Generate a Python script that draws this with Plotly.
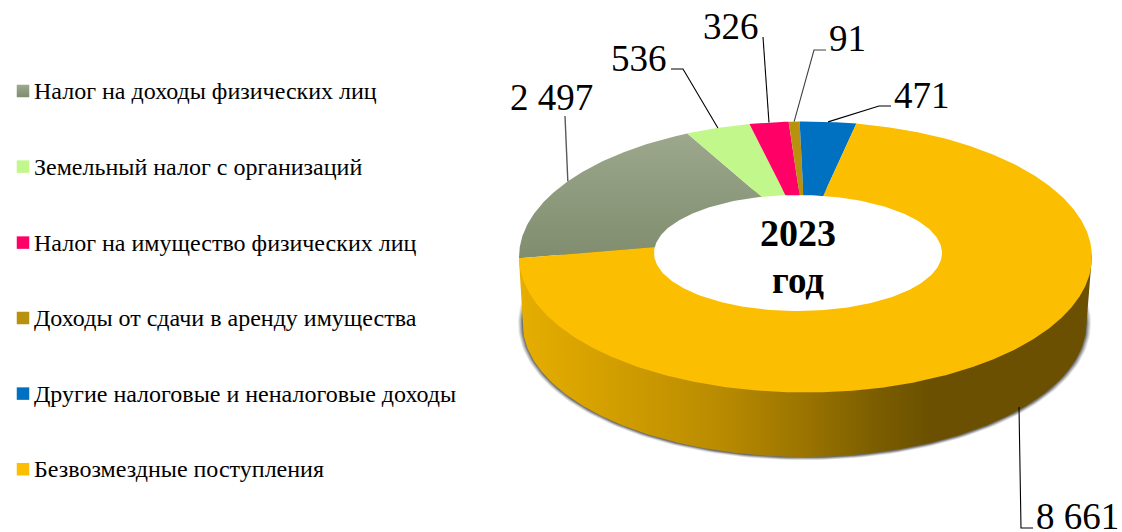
import numpy as np
import plotly.graph_objects as go

categories = ["Налог на доходы физических лиц", "Земельный налог с организаций",
              "Налог на имущество физических лиц", "Доходы от сдачи в аренду имущества",
              "Другие налоговые и неналоговые доходы", "Безвозмездные поступления"]
values = [2497, 536, 326, 91, 471, 8661]
value_labels = ["2 497", "536", "326", "91", "471", "8 661"]
colors = ["#8F9B7C", "#C2F78C", "#FF0066", "#B8920F", "#0070C0", "#FBBE00"]
center_lines = ["2023", "год"]

# disc drawn in perspective: projected disc centre, scale, tilt, first-slice angle
PX, PY, A, B, K = 805.5, 234.5, 282.5, 131.8, 0.166
START_DEG = 259.9


def project(theta_deg, r=1.0):
    t = np.radians(theta_deg)
    u, v = r * np.sin(t), r * np.cos(t)
    w = 1 + K * v
    return PX + A * u / w, PY - B * v / w


def ellipse(cx, cy, ax, ay, t0=0, t1=360, n=240):
    t = np.radians(np.linspace(t0, t1, n))
    return cx + ax * np.cos(t), cy + ay * np.sin(t)


fig = go.Figure()


def poly(xs, ys, color=None, gradient=None):
    tr = dict(x=list(xs), y=list(ys), mode="lines", fill="toself", line=dict(width=0),
              hoverinfo="skip", showlegend=False)
    if gradient:
        tr["fillgradient"] = gradient
    else:
        tr["fillcolor"] = color
    fig.add_trace(go.Scatter(**tr))


# soft shadow under the side wall
for grow, alpha in [(4.5, .10), (3.5, .14), (2.5, .18), (1.5, .25), (0.5, .3)]:
    sx, sy = ellipse(804.5, 323.5, 282 + grow, 134 + grow * .6)
    poly(sx, sy, f"rgba(40,40,40,{alpha})")

# side wall
bx, by = ellipse(804.5, 323, 282, 134, 180, 0)
wall_x = np.r_[519, bx, 1092]
wall_y = np.r_[260, by, 255]
poly(wall_x, wall_y, gradient=dict(
    type="horizontal", start=519, stop=1092,
    colorscale=[[0, "#E6AE00"], [.12, "#D8A300"], [.35, "#B98B00"], [.5, "#9A7400"],
                [.62, "#7C5E00"], [.72, "#6A5000"], [1, "#6A5000"]]))

# top-face slices, angles from the values
total = sum(values)
angle = START_DEG
mids = []
for i, v in enumerate(values):
    sweep = v / total * 360
    th = np.linspace(angle, angle + sweep, max(3, int(sweep * 2)))
    x, y = project(th)
    xs, ys = np.r_[PX, x, PX], np.r_[PY, y, PY]
    if i == 0:
        poly(xs, ys, gradient=dict(type="vertical", start=125, stop=262,
                                   colorscale=[[0, "#9EA98E"], [1, "#7F8C6D"]]))
    else:
        poly(xs, ys, colors[i])
    mids.append(angle + sweep / 2)
    angle += sweep

# hole
hx, hy = ellipse(798, 253, 144, 58)
poly(hx, hy, "#FFFFFF")

# leader lines: label-side elbow points, then the slice's mid-angle on the rim
elbows = [[(565, 116)], [(671, 69), (683, 69)], [(763, 37)], [(826, 50), (814, 50)],
          [(891, 106), (879, 106)], [(1033, 528), (1021, 528)]]
leader_colors = ["#595959", "#000000", "#000000", "#404040", "#000000", "#000000"]
label_pos = [(551, 97), (639, 58.5), (731, 26), (847, 38), (922, 95), (1077, 516)]
for i, pts in enumerate(elbows):
    ex, ey = project(mids[i])
    if i == 5:
        ex, ey = 1019, 407
    fig.add_trace(go.Scatter(x=[p[0] for p in pts] + [ex], y=[p[1] for p in pts] + [ey],
                             mode="lines", line=dict(color=leader_colors[i], width=1.4 if i == 0 else 1.1),
                             hoverinfo="skip", showlegend=False))

# legend squares
legend_y = [91, 166.6, 242.6, 318, 393.6, 469.2]
for i, c in enumerate(categories):
    marker = dict(symbol="square", size=12.5, color=colors[i], line=dict(width=0))
    if i == 0:
        marker["color"] = "#9EA98E"
        marker["gradient"] = dict(type="vertical", color="#7F8C6D")
    fig.add_trace(go.Scatter(x=[23], y=[legend_y[i]], mode="markers", marker=marker,
                             name=c, hoverinfo="skip", showlegend=False))

SERIF = "Liberation Serif, Times New Roman, serif"
ann = []
for c, y in zip(categories, legend_y):
    ann.append(dict(x=32, y=y, text=c, showarrow=False, xanchor="left", yanchor="middle",
                    font=dict(family=SERIF, size=24, color="#000"), xref="x", yref="y"))
for t, (x, y) in zip(value_labels, label_pos):
    ann.append(dict(x=x, y=y, text=t, showarrow=False, xanchor="center", yanchor="middle",
                    font=dict(family=SERIF, size=37, color="#000"), xref="x", yref="y"))
ann.append(dict(x=797.5, y=233, text=f"<b>{center_lines[0]}</b>", showarrow=False,
                font=dict(family=SERIF, size=38, color="#000"), xref="x", yref="y"))
ann.append(dict(x=798, y=280, text=f"<b>{center_lines[1]}</b>", showarrow=False,
                font=dict(family=SERIF, size=37, color="#000"), xref="x", yref="y"))

fig.update_layout(
    width=1122, height=532, margin=dict(l=0, r=0, t=0, b=0),
    paper_bgcolor="#FFFFFF", plot_bgcolor="#FFFFFF", showlegend=False, annotations=ann,
    xaxis=dict(range=[0, 1122], visible=False, fixedrange=True),
    yaxis=dict(range=[532, 0], visible=False, fixedrange=True),
)
fig.write_html("out.html", config={"displayModeBar": False},
               post_script="document.body.style.margin='0';document.body.style.overflow='hidden';")
